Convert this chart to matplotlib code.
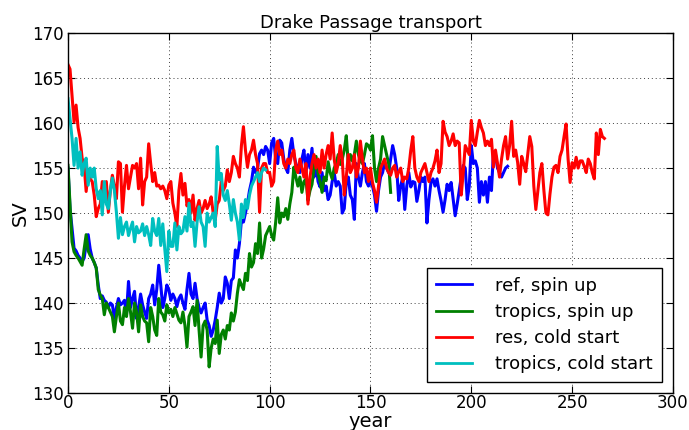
#!/usr/bin/env python
# -*- coding: utf-8 -*-
import matplotlib
matplotlib.use('Agg')
import matplotlib.pyplot as plt
import numpy as N

# Annual mean transport through Drake Passage (Sv)
ref_spinup = [
    155.0, 150.5, 148.3, 146.1, 145.8, 145.3, 145.0, 144.6, 145.0, 146.5,
    147.6, 146.0, 145.0, 144.5, 143.9, 142.0, 140.5, 140.8, 140.3, 140.1,
    139.5, 140.0, 139.8, 138.3, 139.5, 140.5, 139.8, 140.0, 140.3, 138.8,
    142.4, 139.5, 140.5, 141.3, 138.3, 139.5, 141.0, 139.8, 139.0, 138.3,
    140.5, 141.0, 142.0, 139.8, 141.5, 144.2, 142.0, 139.5, 140.5, 142.0,
    141.5, 140.3, 141.0, 140.5, 139.6, 140.5, 140.9, 140.0, 139.3, 141.5,
    143.3, 141.0, 140.5, 142.2, 140.5, 139.5, 138.9, 139.5, 140.0, 138.1,
    137.5, 136.3, 137.0, 138.1, 139.5, 141.1, 140.0, 140.5, 142.9, 142.2,
    140.5, 142.5, 142.8, 145.9, 145.0, 146.6, 149.2, 149.0, 150.0, 151.1,
    152.5, 153.5, 155.1, 154.5, 155.0, 156.6, 157.0, 156.5, 157.4, 157.0,
    155.5, 157.8, 158.3, 156.0, 155.5, 158.1, 157.8, 156.0, 155.0, 154.5,
    157.0, 158.3, 156.5, 155.5, 155.0, 154.5, 156.0, 157.0, 154.5, 156.5,
    155.0, 157.2, 154.0, 155.5, 153.5, 152.9, 154.5, 152.5, 153.0, 151.5,
    152.0, 153.5, 154.5, 153.0, 153.5, 153.0, 150.0, 150.5, 153.5, 154.0,
    152.0, 151.5, 149.3, 155.5, 154.0, 153.0, 154.5, 155.5, 153.5, 153.0,
    153.5, 153.0, 152.0, 150.2, 152.5, 154.0, 154.5, 155.6, 155.0, 154.5,
    156.0, 157.5, 156.5, 155.0, 151.4, 153.0, 154.0, 150.4, 153.0, 154.5,
    152.9, 153.5, 153.4, 151.3, 152.5, 154.0, 153.5, 154.0, 148.9, 151.5,
    153.4, 153.8, 153.0, 153.8, 152.5, 151.4, 150.1, 151.5, 153.2, 152.5,
    153.4, 151.5, 149.7, 151.0, 152.5, 154.0, 155.3, 155.0, 151.5, 153.0,
    157.5, 155.5, 155.8, 155.0, 151.2, 153.5, 152.0, 153.5, 151.2, 154.0,
    152.5, 156.8, 156.5, 155.0, 154.5, 154.0, 154.5, 155.0, 155.2,
]

tropics_spinup = [
    155.3, 150.9, 146.8, 145.7, 145.3, 145.0, 144.6, 144.2, 146.0, 147.6,
    145.8, 145.3, 145.0, 144.5, 143.9, 141.5, 140.9, 140.5, 138.7, 140.0,
    139.5, 139.0, 138.5, 136.8, 138.5, 140.0, 138.0, 137.6, 139.5, 138.5,
    140.5, 139.0, 137.2, 140.0, 139.0, 136.8, 139.8, 138.5, 138.0, 137.8,
    135.7, 139.5, 138.5, 137.0, 136.4, 140.5, 139.0, 138.7, 138.0, 139.8,
    138.9, 139.3, 138.5, 139.5, 138.8, 138.1, 137.8, 139.0, 137.5, 135.1,
    138.5, 139.0, 139.6, 137.5, 140.3, 137.0, 134.0, 137.5, 138.0, 137.0,
    132.9, 135.0, 136.0, 135.5, 138.1, 134.4, 136.5, 137.0, 136.0, 137.5,
    137.0, 138.9, 138.0, 139.0, 141.1, 142.6, 142.0, 141.5, 143.3, 142.5,
    145.5, 144.0, 144.5, 146.6, 145.5, 148.9, 145.0, 146.0, 147.5, 148.0,
    148.5, 147.5, 147.0, 149.0, 151.7, 148.9, 150.0, 149.6, 150.5, 149.3,
    151.0, 152.3, 155.1, 154.0, 153.0, 154.0, 152.3, 153.5, 153.8, 151.4,
    152.5, 153.2, 155.0, 156.3, 154.4, 153.5, 152.3, 154.0, 153.6, 155.7,
    154.5, 153.8, 155.0, 155.5, 156.5, 155.4, 156.0, 157.0, 158.6, 155.4,
    156.5, 155.8, 156.5, 158.0, 156.5, 155.8, 155.5, 156.5, 157.7, 157.5,
    157.0, 158.6, 155.0, 153.5, 155.0, 156.0, 158.5, 157.5, 156.5, 155.5,
    152.3,
]

res_coldstart = [
    166.5, 166.0, 163.0, 160.1, 162.0, 159.5, 158.3, 156.1, 155.3, 152.4,
    154.6, 153.8, 153.5, 152.0, 149.6, 150.5, 151.0, 153.5, 151.3, 153.5,
    150.1, 152.5, 154.2, 153.0, 151.6, 155.7, 155.5, 150.1, 153.0, 155.3,
    152.7, 154.0, 155.3, 155.0, 155.5, 152.7, 156.1, 150.9, 153.5, 154.0,
    157.7, 155.5, 153.5, 154.5, 153.0, 153.1, 152.7, 153.0, 152.5, 151.6,
    153.1, 153.5, 151.1, 150.0, 148.5, 152.5, 154.4, 152.0, 153.3, 150.8,
    151.5, 150.0, 152.0, 149.2, 150.5, 151.4, 150.0, 150.5, 151.4, 150.5,
    151.0, 151.8, 150.0, 149.2, 151.0, 151.4, 153.5, 152.5, 153.0, 154.8,
    153.5, 154.5, 156.3, 155.5, 155.0, 154.0, 157.5, 159.6, 157.0, 155.1,
    156.5, 157.0, 158.1, 156.5, 155.5, 150.1, 155.0, 155.5, 155.5, 154.5,
    154.5, 153.0, 153.5, 157.0, 158.0, 156.5, 157.0, 155.5, 155.0, 156.0,
    155.5, 156.5, 157.0, 155.0, 154.5, 156.0, 155.0, 154.0, 155.5, 151.0,
    154.0, 155.5, 156.5, 155.0, 156.0, 154.5, 157.0, 155.0, 156.5, 157.5,
    156.0, 158.9, 156.0, 154.5, 155.5, 157.5, 156.0, 152.0, 154.0, 156.5,
    154.5, 155.0, 156.5, 154.0, 155.0, 158.0, 156.0, 154.5, 155.0, 153.5,
    155.0, 153.4, 152.5, 151.2, 153.0, 155.0, 155.5, 156.0, 155.0, 154.5,
    154.2, 155.0, 155.3, 154.0, 154.6, 155.0, 153.5, 154.0, 153.8, 155.0,
    157.0, 158.5, 155.0, 154.0, 153.5, 154.5, 155.0, 155.5, 154.5, 153.5,
    154.5, 155.0, 155.8, 157.0, 154.5, 155.5, 160.2, 159.0, 158.5, 157.5,
    158.0, 158.8, 157.5, 158.0, 157.8, 152.0, 154.5, 157.5, 157.0, 156.5,
    160.3, 158.0, 157.5, 159.0, 160.3, 159.5, 158.9, 157.5, 158.0, 157.5,
    158.2, 155.1, 157.0, 155.5, 154.0, 156.0, 157.5, 158.5, 156.0, 157.5,
    160.2, 156.3, 157.0, 155.6, 153.2, 156.3, 155.5, 154.6, 156.5, 158.5,
    157.4, 153.0, 150.4, 152.5, 154.5, 155.5, 152.5, 150.0, 149.8, 152.1,
    154.0, 155.1, 155.3, 154.5, 156.3, 157.0, 158.5, 159.9, 156.0, 153.4,
    155.6, 155.0, 156.2, 155.0, 155.8, 155.8, 155.2, 154.5, 156.0, 155.5,
    154.5, 153.8, 158.9, 156.5, 159.3, 158.5, 158.3,
]

tropics_coldstart = [
    162.7, 160.5, 158.3, 155.3, 158.3, 155.0, 156.8, 154.2, 155.5, 156.1,
    153.1, 155.0, 154.0, 155.0, 152.7, 151.6, 152.5, 149.8, 153.5, 151.0,
    150.5, 152.5, 153.9, 152.5, 150.1, 147.2, 149.5, 147.6, 148.5, 149.0,
    147.5, 148.3, 149.0, 146.8, 148.5, 147.8, 148.0, 148.8, 147.5, 148.5,
    147.6, 146.4, 149.4, 148.0, 147.5, 149.4, 146.4, 148.8, 146.0, 143.5,
    148.0, 146.3, 146.3, 148.9, 145.9, 148.5, 147.7, 148.0, 149.6, 148.0,
    151.1, 148.5, 149.0, 146.3, 149.0, 150.7, 149.0, 148.5, 146.3, 150.0,
    149.0, 149.5, 150.0, 148.5, 157.4, 153.7, 154.4, 152.0, 151.4, 152.5,
    151.0, 149.2, 151.5, 150.0, 149.0, 147.0, 151.0, 149.5, 151.5, 150.5,
    152.0, 153.0, 153.5, 154.0, 154.5, 153.5, 154.5, 155.0, 154.8,
]

labels = ['ref, spin up', 'tropics, spin up', 'res, cold start', 'tropics, cold start']


def run_plot():
    fig = plt.figure(figsize=(6.89, 4.30), dpi=100)
    ax = fig.add_axes([0.0987, 0.086, 0.878, 0.837])

    for data, col, lab in zip([ref_spinup, tropics_spinup, res_coldstart, tropics_coldstart],
                              ['b', 'g', 'r', 'c'], labels):
        yrs = N.arange(len(data))
        ax.plot(yrs, data, color=col, lw=2.2, label=lab)

    ax.set_xlim(0, 300)
    ax.set_ylim(130, 170)
    ax.set_xticks(N.arange(0, 301, 50))
    ax.set_yticks(N.arange(130, 171, 5))
    ax.grid(True, color='0.25', linestyle=(0, (1, 3)), linewidth=0.7)
    ax.tick_params(direction='in', length=5, labelsize=12, top=True, right=True, pad=3)
    ax.tick_params(axis='x', pad=1)
    for sp in ax.spines.values():
        sp.set_linewidth(1.0)

    ax.set_title('Drake Passage transport', fontsize=13, pad=4)
    ax.set_xlabel('year', fontsize=14, labelpad=0)
    ax.set_ylabel('SV', fontsize=14, labelpad=2)

    leg = ax.legend(loc='lower right', fontsize=13, fancybox=False, framealpha=1,
                    edgecolor='k', handlelength=2.0, handletextpad=1.3,
                    borderpad=0.5, labelspacing=0.45, borderaxespad=0.6)
    leg.get_frame().set_linewidth(1.0)
    for line in leg.get_lines():
        line.set_linewidth(2.0)

    fig.savefig('out.png', dpi=100)


if __name__ == "__main__":
    run_plot()
